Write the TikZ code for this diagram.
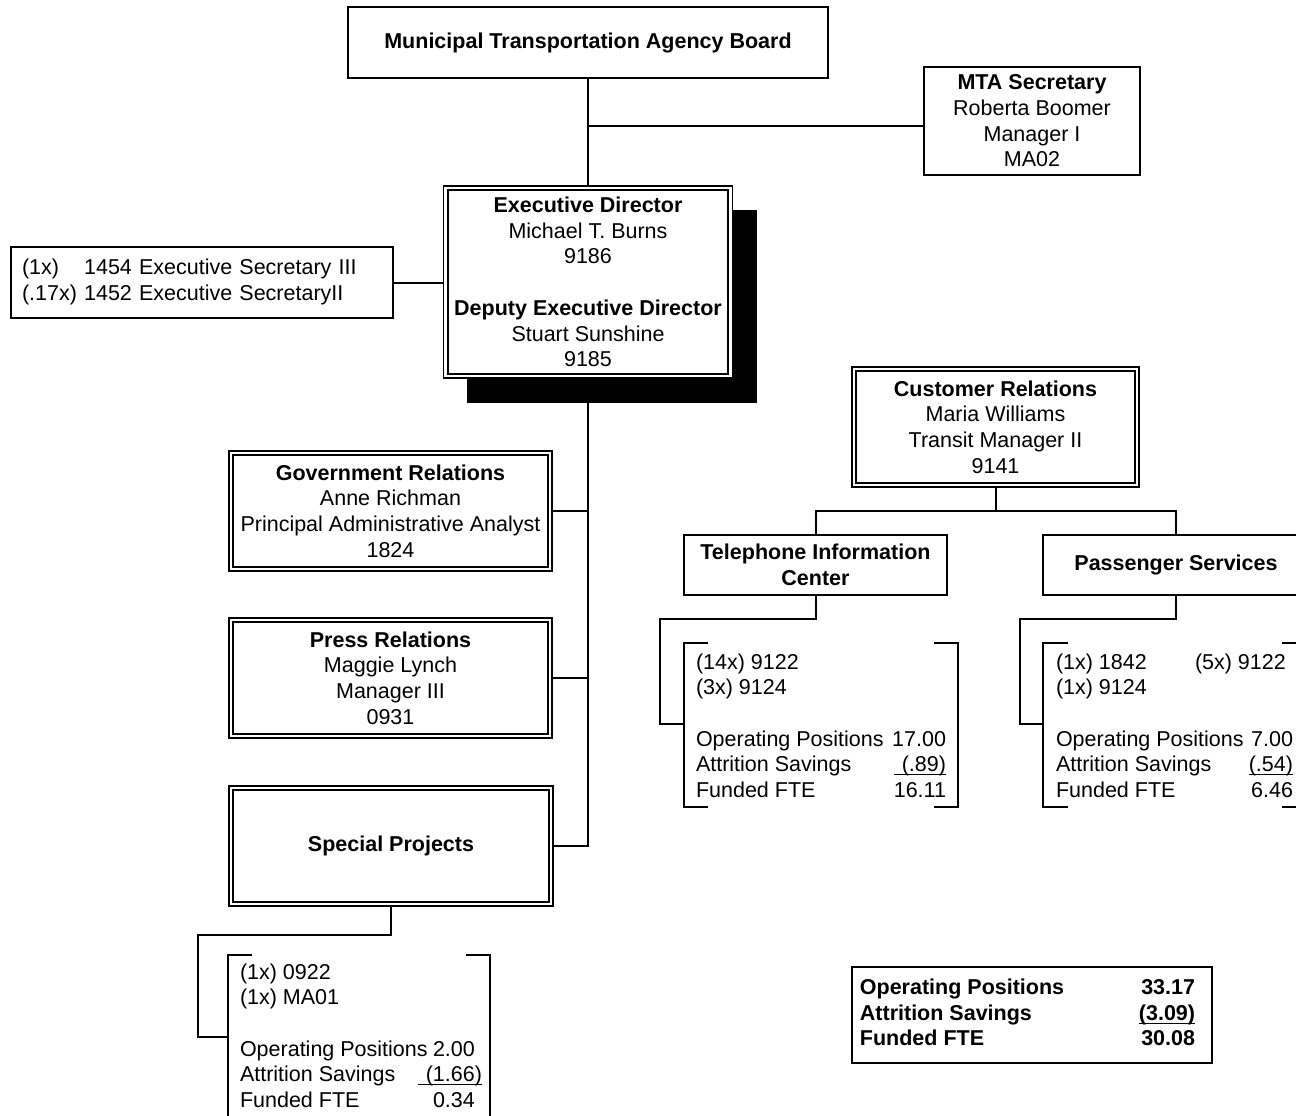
\documentclass[tikz,border=0pt]{standalone}
\usepackage{fontspec}
\setmainfont{Liberation Sans}
\newcommand\ulx[1]{\vtop{\hbox{\smash{#1}}\kern2.5pt\hrule height 1pt}}
\begin{document}
\begin{tikzpicture}[x=1pt,y=-1pt,line width=2pt,
  every node/.style={font=\fontsize{21.5}{25.7}\selectfont, inner sep=0pt},
  box/.style 2 args={draw, fill=white, align=center, minimum width=#1, minimum height=#2},
  dbl/.style={line width=1.3pt},
  inbox/.style={line width=2.2pt},
  tab/.style={anchor=base west, align=left},
  num/.style={anchor=base east, align=right}
]
\useasboundingbox (0,0) rectangle (1296,1116);
\clip (0,0) rectangle (1296,1116);

% shadow of executive box
\fill (467,210) rectangle (757,403);

% nodes
\node[box={480pt}{71pt}] (board) at (588,42.5) {\textbf{Municipal Transportation Agency Board}};
\node[box={216pt}{108pt}] (mta) at (1032,121) {\textbf{MTA Secretary}\\Roberta Boomer\\Manager I\\MA02};
\node[box={289pt}{192pt}, dbl] (exec) at (588,282) {\textbf{Executive Director}\\Michael T. Burns\\9186\\[25.7pt]\textbf{Deputy Executive Director}\\Stuart Sunshine\\9185};
\node[box={382pt}{71pt}, align=left, text width=360pt, inner xsep=11pt] (esec) at (202,282.5)
  {\begin{tabular}{@{}l@{ }l@{}}(1x)&1454 Executive Secretary III\\(.17x)&1452 Executive SecretaryII\end{tabular}};
\node[box={323pt}{120pt}, dbl] (gov) at (390.5,511) {\textbf{Government Relations}\\Anne Richman\\Principal Administrative Analyst\\1824};
\node[box={323pt}{120pt}, dbl] (press) at (390.5,678) {\textbf{Press Relations}\\Maggie Lynch\\Manager III\\0931};
\node[box={324pt}{120pt}, dbl] (sp) at (391,846) {\textbf{Special Projects}};
\node[box={287pt}{120pt}, dbl] (cr) at (995.5,427) {\textbf{Customer Relations}\\Maria Williams\\Transit Manager II\\9141};
\node[box={263pt}{60pt}] (tic) at (815.5,565) {\textbf{Telephone Information}\\\textbf{Center}};
\node[box={266pt}{60pt}] (ps) at (1176,565) {\textbf{Passenger Services}};
\node[box={360pt}{96pt}] (sum) at (1032,1015)
  {\begin{tabular}{@{}p{279pt}@{}r@{}}\textbf{Operating Positions}&\textbf{33.17}\\\textbf{Attrition Savings}&\ulx{\textbf{(3.09)}}\\\textbf{Funded FTE}&\textbf{30.08}\end{tabular}\hspace{9pt}};

% inner lines of double boxes
\foreach \n in {exec,gov,press,sp,cr}
  \draw[inbox] ([shift={(5,5)}]\n.north west) rectangle ([shift={(-5,-5)}]\n.south east);

% bracket texts
\node[tab] (tictab) at (695,669) {\begin{tabular}[t]{@{}l@{}}(14x) 9122\\(3x) 9124\\ \\Operating Positions\\Attrition Savings\\Funded FTE\end{tabular}};
\node[num] (ticnum) at (947,669) {\begin{tabular}[t]{@{}r@{}}\\ \\ \\17.00\\\ulx{\hspace{8pt}(.89)}\\16.11\end{tabular}};
\node[tab] (pstab) at (1055,669) {\begin{tabular}[t]{@{}l@{}}(1x) 1842\\(1x) 9124\\ \\Operating Positions\\Attrition Savings\\Funded FTE\end{tabular}};
\node[tab] (ps5) at (1194,669) {(5x) 9122};
\node[num] (psnum) at (1294,669) {\begin{tabular}[t]{@{}r@{}}\\ \\ \\7.00\\\ulx{(.54)}\\6.46\end{tabular}};
\node[tab] (sptab) at (239,979) {\begin{tabular}[t]{@{}l@{}}(1x) 0922\\(1x) MA01\\ \\Operating Positions\\Attrition Savings\\Funded FTE\end{tabular}};
\node[num] (spnum) at (483,979) {\begin{tabular}[t]{@{}r@{}}\\ \\ \\2.00\phantom{)}\\\ulx{\hspace{8pt}(1.66)}\\0.34\phantom{)}\end{tabular}};

% brackets
\coordinate (ticbr) at (684,724);
\coordinate (psbr) at (1043,724);
\coordinate (spbr) at (228,1037);
\draw (708,643) -- (684,643) -- (684,807) -- (708,807);
\draw (934,643) -- (958,643) -- (958,807) -- (934,807);
\draw (1068,643) -- (1043,643) -- (1043,807) -- (1068,807);
\draw (1282,643) -- (1310,643) -- (1310,807) -- (1282,807);
\draw (252,955) -- (228,955) -- (228,1130);
\draw (466,955) -- (490,955) -- (490,1130);

% connectors
\draw (board.south) -- (exec.north);
\draw (board.south |- 0,126) -- (mta.west |- 0,126);
\draw (esec.east) -- (esec.east -| exec.west);
\draw (exec.south) -- (exec.south |- sp.east) -- (sp.east);
\draw (gov.east) -- (gov.east -| exec.south);
\draw (press.east) -- (press.east -| exec.south);
\draw (cr.south) -- (cr.south |- 0,511);
\draw (tic.north) -- (tic.north |- 0,511) -- (ps.north |- 0,511) -- (ps.north);
\draw (tic.south) -- (tic.south |- 0,619) -- (660,619) -- (660,724) -- (ticbr);
\draw (ps.south) -- (ps.south |- 0,619) -- (1020,619) -- (1020,724) -- (psbr);
\draw (sp.south) -- (sp.south |- 0,935) -- (198,935) -- (198,1037) -- (spbr);
\end{tikzpicture}
\end{document}
